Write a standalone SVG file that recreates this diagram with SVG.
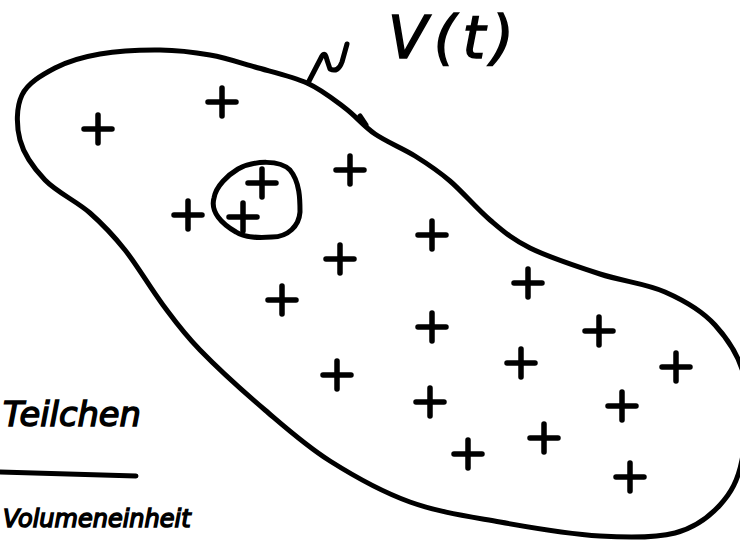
<svg xmlns="http://www.w3.org/2000/svg" xmlns:xlink="http://www.w3.org/1999/xlink" width="740" height="540" viewBox="0 0 740 540">
  <style>
    .ink { fill: none; stroke: #000; stroke-width: 5; stroke-linecap: round; stroke-linejoin: round; }
    .plus { fill: none; stroke: #000; stroke-width: 5.5; stroke-linecap: round; }
    .hand { fill: #000; stroke: #000; stroke-width: 1.5; font-family: "DejaVu Sans", "Liberation Sans", sans-serif; font-style: italic; }
  </style>
  <defs>
    <path id="p" d="M-14 0 H14 M0 -14 V14"/>
  </defs>
  <rect width="740" height="540" fill="#fff"/>

  <g id="volume">
    <path class="ink" d="M 307 83 C 322 89.8 333.7 99.5 345 108 C 356.3 116.5 363.3 126 375 134 C 386.7 142 402.5 148.2 415 156 C 427.5 163.8 437.5 170.3 450 181 C 462.5 191.7 476.7 208.8 490 220 C 503.3 231.2 511.7 239 530 248 C 548.3 257 577.5 266.7 600 274 C 622.5 281.3 645.8 283.5 665 292 C 684.2 300.5 701.7 310.3 715 325 C 728.3 339.7 740.5 357.5 745 380 C 749.5 402.5 746.2 439.2 742 460 C 737.8 480.8 731.2 492.8 720 505 C 708.8 517.2 695 527.8 675 533 C 655 538.2 629.2 537.8 600 536 C 570.8 534.2 531.7 527.7 500 522 C 468.3 516.3 438.3 512.2 410 502 C 381.7 491.8 354.2 476.3 330 461 C 305.8 445.7 286.7 428.5 265 410 C 243.3 391.5 217 367.5 200 350 C 183 332.5 175.5 321.7 163 305 C 150.5 288.3 137.2 265.3 125 250 C 112.8 234.7 103.3 224.7 90 213 C 76.7 201.3 56.7 192.2 45 180 C 33.3 167.8 23.8 154.2 20 140 C 16.2 125.8 16.2 107 22 95 C 27.8 83 42 74.8 55 68 C 68 61.2 82.5 57 100 54 C 117.5 51 141.7 49.8 160 50 C 178.3 50.2 194.2 52.2 210 55 C 225.8 57.8 238.8 62.3 255 67 C 271.2 71.7 292 76.2 307 83 Z"/>
    <path class="ink" d="M 360 116 L 366 125" stroke-width="8"/>
    <path class="ink" d="M 308 83 L 322 56 Q 325 51 327 60 L 330 69 Q 338 73 342 62 L 347 44"/>
  </g>

  <g id="label-V">
    <text class="hand" x="388" y="58" font-size="58" stroke-width="2" textLength="126" lengthAdjust="spacing">V(t)</text>
  </g>

  <g id="small-region">
    <path class="ink" d="M 238 169 C 255 160 280 160 290 170 C 300 182 300 200 300 212 C 299 226 288 237 272 237 C 258 238 245 238 236 232 C 222 224 210 212 214 198 C 216 186 228 175 238 169 Z"/>
  </g>

  <g id="particles">
    <use xlink:href="#p" href="#p" x="98" y="129" class="plus"/>
    <use xlink:href="#p" href="#p" x="222" y="102" class="plus"/>
    <use xlink:href="#p" href="#p" x="350" y="170" class="plus"/>
    <use xlink:href="#p" href="#p" x="262" y="183" class="plus"/>
    <use xlink:href="#p" href="#p" x="243" y="217" class="plus"/>
    <use xlink:href="#p" href="#p" x="188" y="215" class="plus"/>
    <use xlink:href="#p" href="#p" x="432" y="235" class="plus"/>
    <use xlink:href="#p" href="#p" x="340" y="259" class="plus"/>
    <use xlink:href="#p" href="#p" x="282" y="300" class="plus"/>
    <use xlink:href="#p" href="#p" x="528" y="283" class="plus"/>
    <use xlink:href="#p" href="#p" x="432" y="327" class="plus"/>
    <use xlink:href="#p" href="#p" x="599" y="331" class="plus"/>
    <use xlink:href="#p" href="#p" x="521" y="363" class="plus"/>
    <use xlink:href="#p" href="#p" x="676" y="367" class="plus"/>
    <use xlink:href="#p" href="#p" x="337" y="375" class="plus"/>
    <use xlink:href="#p" href="#p" x="430" y="402" class="plus"/>
    <use xlink:href="#p" href="#p" x="622" y="406" class="plus"/>
    <use xlink:href="#p" href="#p" x="544" y="438" class="plus"/>
    <use xlink:href="#p" href="#p" x="468" y="454" class="plus"/>
    <use xlink:href="#p" href="#p" x="630" y="477" class="plus"/>
  </g>

  <g id="density">
    <text class="hand" x="3" y="426" font-size="34" textLength="138" lengthAdjust="spacingAndGlyphs">Teilchen</text>
    <path class="ink" d="M 0 472 L 136 476" stroke-width="6"/>
    <text class="hand" x="3" y="527" font-size="24" stroke-width="0.6">Volumeneinheit</text>
  </g>
</svg>
